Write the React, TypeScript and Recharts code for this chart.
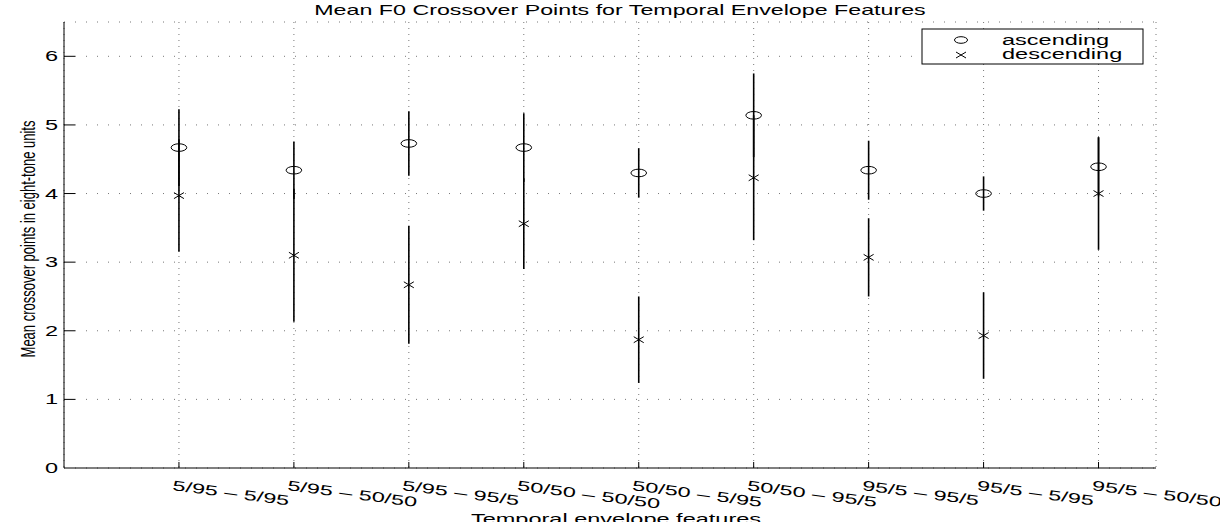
import React from 'react';
import { ComposedChart, Scatter, ErrorBar, XAxis, YAxis, CartesianGrid, Customized } from 'recharts';

// Envelope pair on each x position
const categories = [
  '5/95 – 5/95',
  '5/95 – 50/50',
  '5/95 – 95/5',
  '50/50 – 50/50',
  '50/50 – 5/95',
  '50/50 – 95/5',
  '95/5 – 95/5',
  '95/5 – 5/95',
  '95/5 – 50/50',
];

// crossover means and error half-widths (eight-tone units)
const ascending = [4.67, 4.34, 4.73, 4.67, 4.3, 5.14, 4.34, 4.0, 4.39];
const ascendingErr = [0.56, 0.42, 0.47, 0.5, 0.36, 0.61, 0.43, 0.25, 0.43];
const descending = [3.97, 3.1, 2.67, 3.56, 1.87, 4.23, 3.07, 1.93, 4.0];
const descendingErr = [0.82, 0.97, 0.86, 0.66, 0.63, 0.91, 0.57, 0.63, 0.82];

const xTicks = [1, 2, 3, 4, 5, 6, 7, 8, 9];
const yTicks = [0, 1, 2, 3, 4, 5, 6];

const rows = categories.map((name, i) => ({
  pos: i + 1,
  name,
  asc: ascending[i],
  ascErr: ascendingErr[i],
  desc: descending[i],
  descErr: descendingErr[i],
}));

const FONT = "'Liberation Sans', Arial, Helvetica, sans-serif";
const STRETCH = 1.68;

const WideText = ({ x, y, children, anchor = 'start', rotate = 0, sx = STRETCH, sy = 1, size = 14 }: any) => (
  <text
    transform={`translate(${x},${y}) rotate(${rotate}) scale(${sx},${sy})`}
    textAnchor={anchor}
    fontSize={size}
    fontFamily={FONT}
    fill="#000"
  >
    {children}
  </text>
);

const XTick = ({ x, y, payload }: any) => (
  <g>
    <line x1={x} x2={x} y1={y - 22} y2={y - 28} stroke="#000" />
    <WideText x={x - 7} y={y} rotate={7.5}>
      {categories[payload.value - 1]}
    </WideText>
  </g>
);

const YTick = ({ x, y, payload }: any) => (
  <g>
    {payload.value !== 0 && <line x1={x + 7} x2={x + 18} y1={y} y2={y} stroke="#000" />}
    <WideText x={x + 1} y={y + 5} anchor="end">
      {payload.value}
    </WideText>
  </g>
);

const XTitle = ({ viewBox }: any) => (
  <WideText x={viewBox.x + viewBox.width / 2 + 6} y={viewBox.y + 56} anchor="middle">
    Temporal envelope features
  </WideText>
);

const YTitle = ({ viewBox }: any) => (
  <WideText x={35} y={viewBox.y + viewBox.height / 2 - 6} anchor="middle" rotate={-90} sx={1} sy={1.5} size={13}>
    Mean crossover points in eight-tone units
  </WideText>
);

const Ring = (p: any) => (
  <ellipse cx={p.cx} cy={p.cy} rx={7.8} ry={3.8} fill="none" stroke="#000" strokeWidth={1} />
);

const Cross = (p: any) => (
  <path
    d={`M${p.cx - 5},${p.cy - 3}L${p.cx + 5},${p.cy + 3}M${p.cx - 5},${p.cy + 3}L${p.cx + 5},${p.cy - 3}`}
    stroke="#000"
    strokeWidth={1}
  />
);

const TitleAndLegend = () => (
  <g>
    <WideText x={620} y={15} anchor="middle" sx={1.66}>
      Mean F0 Crossover Points for Temporal Envelope Features
    </WideText>
    <rect x={922} y={29} width={221} height={35} fill="#fff" stroke="#000" />
    <ellipse cx={961} cy={40} rx={6.5} ry={3.3} fill="none" stroke="#000" />
    <path d="M956,52L966,58M956,58L966,52" stroke="#000" />
    <WideText x={1002} y={45}>ascending</WideText>
    <WideText x={1002} y={58.5}>descending</WideText>
  </g>
);

export default function App() {
  return (
    <div style={{ position: 'absolute', left: 0, top: 0, background: '#fff' }}>
      <ComposedChart width={1220} height={522} data={rows} margin={{ top: 22, right: 64, bottom: 0, left: 0 }}>
        <CartesianGrid vertical={false} strokeDasharray="1 10" stroke="#777" />
        <CartesianGrid horizontal={false} strokeDasharray="1 5" stroke="#777" />
        <XAxis
          dataKey="pos"
          type="number"
          domain={[0, 9.5]}
          ticks={xTicks}
          interval={0}
          height={54}
          tickSize={0}
          tickMargin={22}
          tickLine={false}
          axisLine={{ stroke: '#000' }}
          tick={<XTick />}
          label={<XTitle />}
        />
        <YAxis
          type="number"
          domain={[0, 6.5]}
          ticks={yTicks}
          interval={0}
          width={64}
          tickSize={0}
          tickMargin={7}
          tickLine={false}
          axisLine={{ stroke: '#000' }}
          tick={<YTick />}
          label={<YTitle />}
        />
        <Scatter dataKey="desc" shape={<Cross />} isAnimationActive={false}>
          <ErrorBar dataKey="descErr" direction="y" width={0} stroke="#000" strokeWidth={1.6} />
        </Scatter>
        <Scatter dataKey="asc" shape={<Ring />} isAnimationActive={false}>
          <ErrorBar dataKey="ascErr" direction="y" width={0} stroke="#000" strokeWidth={1.6} />
        </Scatter>
        <Customized component={TitleAndLegend} />
      </ComposedChart>
    </div>
  );
}
